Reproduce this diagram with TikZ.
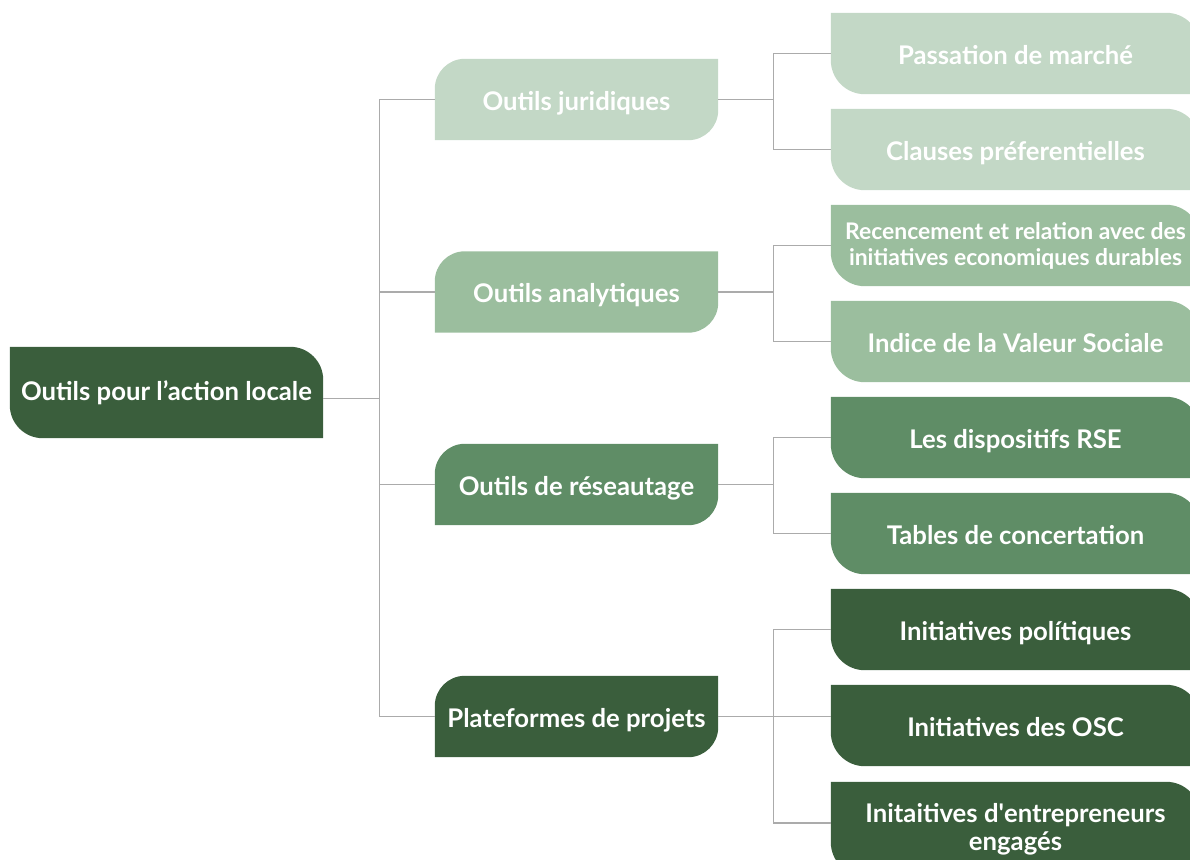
\documentclass[tikz,border=0pt]{standalone}
\usepackage{fontspec}
\setmainfont{Lato}
\usetikzlibrary{calc,backgrounds}
\definecolor{gA}{HTML}{C3D8C6}
\definecolor{gB}{HTML}{9BBE9E}
\definecolor{gC}{HTML}{5F8D66}
\definecolor{gD}{HTML}{3A5E3C}
\definecolor{lineg}{HTML}{ABABAB}
\tikzset{
  box/.style={inner sep=0pt, text=white, font=\bfseries\fontsize{25.7}{28}\selectfont, align=center},
  oneline/.style={text height=21pt, text depth=0pt},
  rootbox/.style={box, minimum width=313pt, minimum height=91pt},
  midbox/.style={box, oneline, minimum width=283pt, minimum height=81pt},
  leafbox/.style={box, minimum width=369pt, minimum height=81pt},
  leafone/.style={leafbox, oneline},
  leafsmall/.style={leafbox, font=\bfseries\fontsize{22.9}{26}\selectfont},
  conn/.style={draw=lineg, line width=1.4pt},
}
\newcommand\fillTRBL[3]{\fill[#2] (#1.north west) -- ([xshift=-#3]#1.north east) arc[start angle=90,end angle=0,radius=#3] -- (#1.south east) -- ([xshift=#3]#1.south west) arc[start angle=270,end angle=180,radius=#3] -- cycle;}
\newcommand\fillTLBR[3]{\fill[#2] ([yshift=-#3]#1.north west) arc[start angle=180,end angle=90,radius=#3] -- (#1.north east) -- ([yshift=#3]#1.south east) arc[start angle=0,end angle=-90,radius=#3] -- (#1.south west) -- cycle;}
\begin{document}
\begin{tikzpicture}[x=1pt,y=1pt]
\useasboundingbox (0,0) rectangle (1190,-859);
% nodes
\node[rootbox] (root) at (166.5,-392.5) {Outils pour l’action locale};
\node[midbox] (jur) at (576.5,-99.5) {Outils juridiques};
\node[midbox] (ana) at (576.5,-292) {Outils analytiques};
\node[midbox] (res) at (576.5,-484.5) {Outils de réseautage};
\node[midbox] (pla) at (576.5,-716.5) {Plateformes de projets};
\node[leafone] (l1) at (1015.5,-53.5) {Passation de marché};
\node[leafone] (l2) at (1015.5,-149.5) {Clauses préferentielles};
\node[leafsmall] (l3) at (1015.5,-245.5) {Recencement et relation avec des\\initiatives economiques durables};
\node[leafone] (l4) at (1015.5,-341.5) {Indice de la Valeur Sociale};
\node[leafone] (l5) at (1015.5,-437.5) {Les dispositifs RSE};
\node[leafone] (l6) at (1015.5,-533.5) {Tables de concertation};
\node[leafone] (l7) at (1015.5,-629.5) {Initiatives polítiques};
\node[leafone] (l8) at (1015.5,-725.5) {Initiatives des OSC};
\node[leafbox, minimum height=94pt] (l9) at (1015.5,-829) {Initaitives d\textquotesingle entrepreneurs\\engagés};
% shapes
\begin{scope}[on background layer]
  \clip (0,0) rectangle (1190,-859);
  \fillTRBL{root}{gD}{33pt}
  \fillTLBR{jur}{gA}{30pt}
  \fillTLBR{ana}{gB}{30pt}
  \fillTLBR{res}{gC}{30pt}
  \fillTLBR{pla}{gD}{30pt}
  \fillTRBL{l1}{gA}{34pt}
  \fillTRBL{l2}{gA}{34pt}
  \fillTRBL{l3}{gB}{34pt}
  \fillTRBL{l4}{gB}{34pt}
  \fillTRBL{l5}{gC}{34pt}
  \fillTRBL{l6}{gC}{34pt}
  \fillTRBL{l7}{gD}{34pt}
  \fillTRBL{l8}{gD}{34pt}
  \fillTRBL{l9}{gD}{34pt}
\end{scope}
% connectors
\coordinate (b0) at ($(root.east)+(56,-6)$);
\draw[conn] ([yshift=-6pt]root.east) -- (b0);
\foreach \n in {jur,ana,res,pla} \draw[conn] (b0) |- (\n.west);
\coordinate (bj) at ($(jur.east)+(55,0)$);
\draw[conn] (jur.east) -- (bj);
\draw[conn] (bj) |- (l1.west);
\draw[conn] (bj) |- (l2.west);
\coordinate (ba) at ($(ana.east)+(55,0)$);
\draw[conn] (ana.east) -- (ba);
\draw[conn] (ba) |- (l3.west);
\draw[conn] (ba) |- (l4.west);
\coordinate (br) at ($(res.east)+(55,0)$);
\draw[conn] (res.east) -- (br);
\draw[conn] (br) |- (l5.west);
\draw[conn] (br) |- (l6.west);
\coordinate (bp) at ($(pla.east)+(55,0)$);
\draw[conn] (pla.east) -- (pla.east -| l8.west);
\draw[conn] (bp) |- (l7.west);
\draw[conn] (bp) |- ([yshift=6pt]l9.west);
\end{tikzpicture}
\end{document}
